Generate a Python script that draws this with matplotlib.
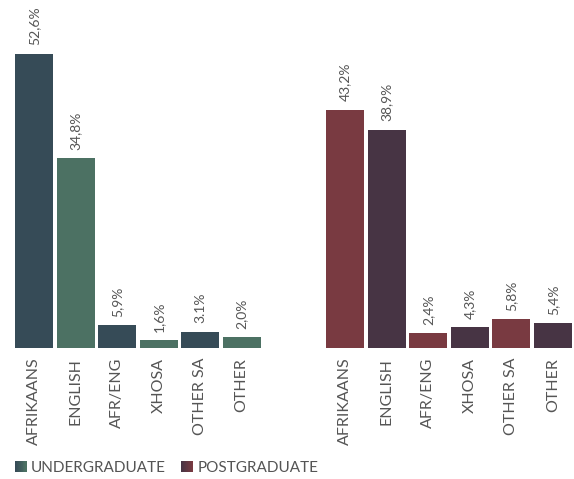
import matplotlib
matplotlib.use('Agg')
import matplotlib.pyplot as plt
import matplotlib.colors as mcolors
from matplotlib.patches import Rectangle
from matplotlib.legend_handler import HandlerBase

languages = ['AFRIKAANS', 'ENGLISH', 'AFR/ENG', 'XHOSA', 'OTHER SA', 'OTHER']
# bar heights as drawn in the picture (the infographic is not exactly to scale)
undergrad = [52.6, 33.9, 4.1, 1.4, 2.9, 1.9]
postgrad = [42.6, 39.0, 2.7, 3.7, 5.1, 4.4]
undergrad_labels = ['52,6%', '34,8%', '5,9%', '1,6%', '3.1%', '2,0%']
postgrad_labels = ['43,2%', '38,9%', '2,4%', '4,3%', '5,8%', '5,4%']

ug_colors = ['#364b57', '#4c7163']
pg_colors = ['#793a41', '#473444']
text_col = '#555555'

plt.rcParams['font.family'] = ['Lato', 'DejaVu Sans']


class GradientHandler(HandlerBase):
    def __init__(self, c1, c2):
        super().__init__()
        self.c1, self.c2 = mcolors.to_rgb(c1), mcolors.to_rgb(c2)

    def create_artists(self, legend, orig_handle, xdescent, ydescent,
                       width, height, fontsize, trans):
        n = 12
        out = []
        for i in range(n):
            f = i / (n - 1)
            c = [a + (b - a) * f for a, b in zip(self.c1, self.c2)]
            out.append(Rectangle((-xdescent + width * i / n, -ydescent),
                                 width / n + 0.3, height, color=c,
                                 transform=trans, lw=0))
        return out


fig = plt.figure(figsize=(5.74, 4.79), dpi=100)
ax = fig.add_axes([0, 0.2735, 1, 0.7265])

x_ug = [i for i in range(len(languages))]
x_pg = [i + 7.5 for i in range(len(languages))]

bars_ug = ax.bar(x_ug, undergrad, width=0.915,
                 color=[ug_colors[i % 2] for i in range(len(undergrad))])
bars_pg = ax.bar(x_pg, postgrad, width=0.915,
                 color=[pg_colors[i % 2] for i in range(len(postgrad))])

for b, lab in zip(list(bars_ug) + list(bars_pg), undergrad_labels + postgrad_labels):
    ax.annotate(lab, (b.get_x() + b.get_width() / 2, b.get_height()),
                xytext=(0, 6), textcoords='offset points',
                rotation=90, ha='center', va='bottom',
                fontsize=10, color=text_col)

ax.set_xticks(x_ug + x_pg)
ax.set_xticklabels(languages + languages, rotation=90, fontsize=11.5, color=text_col)
ax.tick_params(axis='x', length=0, pad=7)
ax.set_yticks([])
ax.set_xlim(-0.819, 13.006)
ax.set_ylim(0, 62.2)
for s in ax.spines.values():
    s.set_visible(False)

h1 = Rectangle((0, 0), 1, 1)
h2 = Rectangle((0, 0), 1, 1)
leg = fig.legend([h1, h2], ['UNDERGRADUATE', 'POSTGRADUATE'],
                 handler_map={h1: GradientHandler('#364b57', '#4c7163'),
                              h2: GradientHandler('#473444', '#793a41')},
                 loc='lower left', bbox_to_anchor=(0.002, -0.02),
                 ncol=2, frameon=False, fontsize=11, handlelength=0.75,
                 handleheight=0.75, handletextpad=0.3, columnspacing=1.0)
for t in leg.get_texts():
    t.set_color(text_col)

fig.savefig('out.png', dpi=100)
